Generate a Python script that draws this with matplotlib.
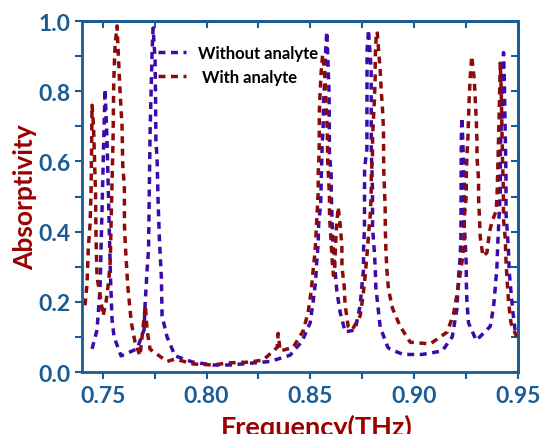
import matplotlib
matplotlib.use("Agg")
import matplotlib.pyplot as plt
import numpy as np
from matplotlib.ticker import MultipleLocator

def px2f(p):
    return 0.74 + (p - 82) / 2075.0

# Without analyte: (pixel-x read positions converted to THz) and absorptivity
without_px = [92, 97, 100, 101, 102, 103, 104, 105, 107, 108, 109, 110, 110.5, 112, 114, 121,
              137, 144, 145, 147, 148.5, 149, 149.5, 150, 151, 152, 153, 155, 155.5, 155.8, 157,
              158, 159.3, 161.3, 162, 167, 175, 193, 213, 230, 250, 270, 290, 302, 310, 313,
              315.5, 316.5, 318, 318.5, 320.5, 321, 321.5, 322, 323, 323.3, 324.3, 325, 325.7,
              326.7, 328.3, 329, 329.1, 329.2, 329.3, 331, 331.1, 331.7, 332.3, 333.3, 335,
              336.7, 340, 345, 355, 360, 361.7, 363.3, 363.4, 364.3, 364.4, 366.7, 366.8,
              366.9, 368.3, 371, 371.1, 371.7, 372.3, 372.4, 374, 375, 375.7, 380, 387.7, 390,
              403, 422, 442, 452, 456.7, 458.3, 460, 460.7, 460.8, 460.9, 461, 461.1, 461.7,
              462.7, 463.3, 464, 464.1, 465, 466, 466.1, 466.7, 468.3, 476, 490, 493.3, 495,
              496.7, 497.3, 498.3, 499.3, 500, 500.1, 500.7, 501.7, 501.8, 502.7, 503.3, 504,
              505, 505.7, 505.8, 507.3, 508.3, 509, 510.7, 512.7, 515, 517]
without_val = [0.066, 0.12, 0.236, 0.35, 0.455, 0.58, 0.69, 0.806, 0.66, 0.55, 0.44, 0.33, 0.265,
               0.15, 0.10, 0.046, 0.066, 0.12, 0.19, 0.29, 0.35, 0.455, 0.57, 0.68, 0.80, 0.91,
               0.98, 0.89, 0.78, 0.66, 0.61, 0.49, 0.38, 0.27, 0.16, 0.10, 0.046, 0.028, 0.02,
               0.02, 0.025, 0.03, 0.048, 0.088, 0.14, 0.20, 0.26, 0.31, 0.365, 0.42, 0.48,
               0.535, 0.59, 0.645, 0.70, 0.76, 0.815, 0.87, 0.93, 0.97, 0.85, 0.79, 0.735,
               0.68, 0.62, 0.565, 0.51, 0.455, 0.40, 0.34, 0.285, 0.23, 0.17, 0.114, 0.12,
               0.19, 0.245, 0.29, 0.35, 0.41, 0.58, 0.635, 0.75, 0.915, 0.975, 0.86, 0.64,
               0.58, 0.52, 0.41, 0.35, 0.30, 0.24, 0.128, 0.07, 0.065, 0.05, 0.05, 0.06, 0.10,
               0.18, 0.27, 0.33, 0.385, 0.44, 0.50, 0.61, 0.67, 0.725, 0.65, 0.59, 0.535,
               0.42, 0.365, 0.31, 0.255, 0.20, 0.14, 0.09, 0.13, 0.185, 0.24, 0.30, 0.35,
               0.41, 0.465, 0.515, 0.63, 0.685, 0.74, 0.80, 0.855, 0.91, 0.845, 0.68, 0.565,
               0.45, 0.39, 0.34, 0.285, 0.23, 0.17, 0.114, 0.11]

with_px = [85, 87, 88.3, 90, 91, 91.5, 92, 93.5, 95.5, 96, 97, 100, 103, 106, 108.7, 110.3, 111,
           112, 113, 113.7, 115, 117, 119.7, 122, 122.7, 124.3, 124.4, 125.3, 126.3, 127.7,
           131.3, 135, 140, 145.3, 147, 150, 167, 175, 193, 213, 228, 248, 263, 277, 278, 280,
           293, 303, 308, 311, 313, 315, 316, 317, 318, 318.1, 319, 319.1, 319.2, 320, 321,
           322.5, 325, 325.7, 326.7, 327.3, 327.4, 328.3, 329.3, 329.4, 330.7, 331.7, 333.3,
           334.5, 336, 338, 340, 341.7, 341.8, 344, 345, 348, 352, 360, 363, 365, 366.7,
           368.3, 370, 371, 371.1, 372.3, 372.4, 373.3, 374.3, 375, 375.1, 376, 377, 380,
           381, 382.3, 383.3, 383.4, 383.5, 384.3, 385, 385.1, 385.7, 386.7, 388.3, 392.5,
           400, 410, 430, 447, 453.3, 456.7, 460, 462.7, 464, 464.1, 466, 466.1, 466.7,
           467.7, 468.3, 469, 470, 471.5, 474, 475, 476, 476.7, 476.8, 478.3, 478.4, 479.3,
           480, 482.7, 486.7, 489.3, 492, 496, 497, 497.5, 498, 498.5, 499, 500, 501, 501.7,
           502.3, 503, 503.3, 505, 505.7, 507, 508.3, 510.7, 515, 518]
with_val = [0.19, 0.25, 0.355, 0.42, 0.51, 0.62, 0.76, 0.70, 0.51, 0.38, 0.27, 0.22, 0.16, 0.20,
            0.26, 0.32, 0.42, 0.54, 0.66, 0.83, 0.93, 0.986, 0.815, 0.70, 0.59, 0.53, 0.42,
            0.36, 0.31, 0.245, 0.14, 0.085, 0.046, 0.19, 0.12, 0.065, 0.03, 0.037, 0.023,
            0.02, 0.026, 0.028, 0.034, 0.07, 0.11, 0.06, 0.07, 0.117, 0.17, 0.23, 0.29, 0.345,
            0.40, 0.455, 0.51, 0.57, 0.625, 0.68, 0.74, 0.80, 0.855, 0.905, 0.835, 0.78, 0.72,
            0.66, 0.61, 0.555, 0.50, 0.44, 0.385, 0.33, 0.275, 0.30, 0.40, 0.47, 0.42, 0.36,
            0.30, 0.245, 0.19, 0.13, 0.12, 0.16, 0.22, 0.275, 0.33, 0.39, 0.445, 0.50, 0.56,
            0.615, 0.67, 0.725, 0.78, 0.84, 0.90, 0.955, 0.97, 0.86, 0.805, 0.75, 0.69, 0.635,
            0.58, 0.52, 0.465, 0.41, 0.35, 0.29, 0.235, 0.18, 0.13, 0.085, 0.08, 0.114, 0.165,
            0.22, 0.28, 0.33, 0.39, 0.44, 0.50, 0.56, 0.615, 0.67, 0.725, 0.78, 0.84, 0.90,
            0.835, 0.78, 0.72, 0.665, 0.61, 0.55, 0.49, 0.435, 0.385, 0.33, 0.34, 0.40, 0.43,
            0.46, 0.52, 0.58, 0.63, 0.685, 0.745, 0.88, 0.80, 0.70, 0.60, 0.535, 0.435, 0.38,
            0.32, 0.255, 0.20, 0.14, 0.11, 0.09]

freq_without = [px2f(p) for p in without_px]
freq_with = [px2f(p) for p in with_px]

xticks = [0.75, 0.80, 0.85, 0.90, 0.95]
yticks = [0.0, 0.2, 0.4, 0.6, 0.8, 1.0]
series_labels = ["Without analyte", " With analyte"]

blue = "#3c0aa8"
red = "#8c0a0a"
axis_blue = "#1a5c96"
label_red = "#9b0000"

fig = plt.figure(figsize=(5.52, 4.35), dpi=100)
ax = fig.add_axes([0.1486, 0.1425, 0.7898, 0.8069])

ls = (0, (2.0, 1.6))
ax.plot(freq_without, without_val, color=blue, lw=2.5, linestyle=ls, dash_capstyle="butt",
        label=series_labels[0])
ax.plot(freq_with, with_val, color=red, lw=2.5, linestyle=ls, dash_capstyle="butt",
        label=series_labels[1])

ax.set_xlim(0.74, 0.95)
ax.set_ylim(0.0, 1.0)
ax.set_xticks(xticks)
ax.set_xticklabels([f"{t:.2f}" for t in xticks])
ax.set_yticks(yticks)
ax.set_yticklabels([f"{t:.1f}" for t in yticks])
ax.xaxis.set_minor_locator(MultipleLocator(0.025))
ax.yaxis.set_minor_locator(MultipleLocator(0.1))

for sp in ax.spines.values():
    sp.set_color(axis_blue)
    sp.set_linewidth(2.0)

ax.tick_params(which="both", direction="out", color=axis_blue, width=1.5, length=5,
               top=False, right=False)
for lab in ax.get_xticklabels() + ax.get_yticklabels():
    lab.set_fontfamily("Lato")
    lab.set_fontweight("bold")
    lab.set_fontsize(16.5)
    lab.set_color(axis_blue)
ax.tick_params(axis="x", pad=4)
ax.tick_params(axis="y", pad=3)

# inward ticks on top and right
ax2 = ax.secondary_xaxis("top")
ax2.set_xticks(xticks)
ax2.xaxis.set_minor_locator(MultipleLocator(0.025))
ax2.tick_params(which="both", direction="in", color=axis_blue, width=1.5, length=5,
                labeltop=False)
ax3 = ax.secondary_yaxis("right")
ax3.set_yticks(yticks)
ax3.yaxis.set_minor_locator(MultipleLocator(0.1))
ax3.tick_params(which="both", direction="in", color=axis_blue, width=1.5, length=5,
                labelright=False)
for a in (ax2, ax3):
    for sp in a.spines.values():
        sp.set_color(axis_blue)
        sp.set_linewidth(2.0)

ax.set_xlabel("Frequency(THz)", fontfamily="Lato", fontweight="bold", fontsize=19.5,
              color=label_red)
ax.xaxis.set_label_coords(0.539, -0.118)
ax.set_ylabel("Absorptivity", fontfamily="Lato", fontweight="bold", fontsize=19,
              color=label_red)
ax.yaxis.set_label_coords(-0.103, 0.5)

leg = ax.legend(loc="upper left", bbox_to_anchor=(0.139, 0.974), frameon=False,
                prop={"family": "Lato", "weight": "bold", "size": 12},
                handlelength=1.7, handletextpad=0.7, labelspacing=0.45)

fig.savefig("out.png", dpi=100)
